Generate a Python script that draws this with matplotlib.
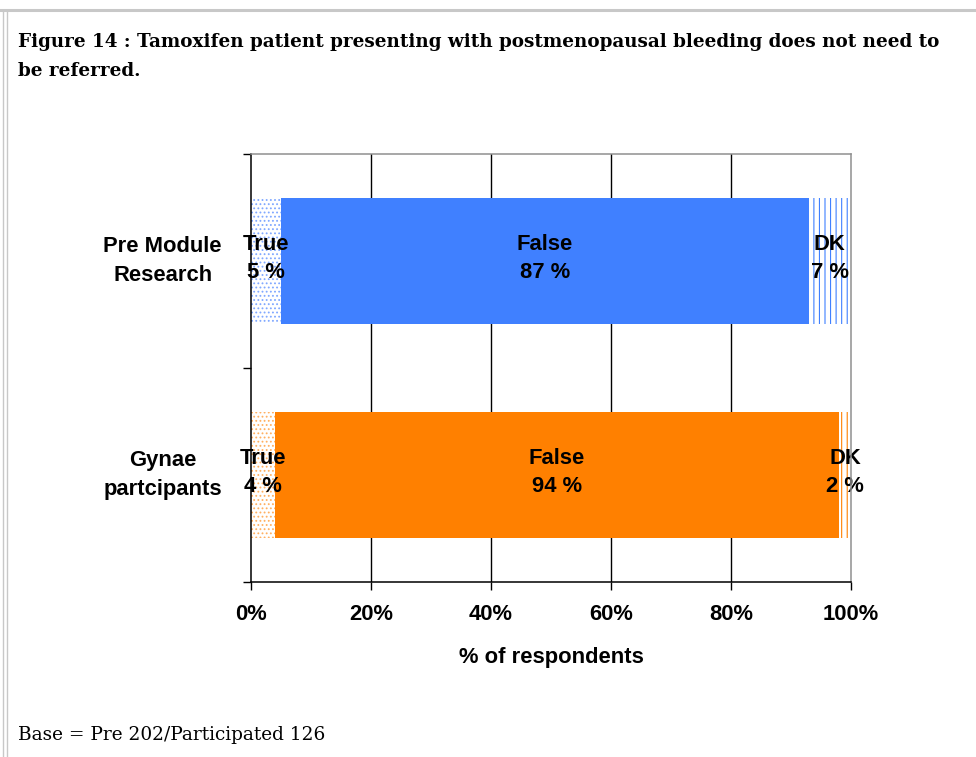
import matplotlib
matplotlib.use("Agg")
import matplotlib.pyplot as plt
from matplotlib.lines import Line2D
import numpy as np

title = "Figure 14 : Tamoxifen patient presenting with postmenopausal bleeding does not need to\nbe referred."
footer = "Base = Pre 202/Participated 126"
categories = ["Gynae\npartcipants", "Pre Module\nResearch"]
segments = ["True", "False", "DK"]
values = {
    "Gynae\npartcipants": [4, 94, 2],
    "Pre Module\nResearch": [5, 87, 7],
}
colors = {"Gynae\npartcipants": "#FF8000", "Pre Module\nResearch": "#4080FF"}
dot_colors = {"Gynae\npartcipants": "#FFB060", "Pre Module\nResearch": "#80A8FF"}
hatches = ["....", None, "|||"]
xticks = [0, 20, 40, 60, 80, 100]
xticklabels = ["0%", "20%", "40%", "60%", "80%", "100%"]
xlabel = "% of respondents"

plt.rcParams["hatch.linewidth"] = 0.8
fig = plt.figure(figsize=(9.76, 7.57), dpi=100)

# page border
fig.add_artist(Line2D([0.0, 1.0], [1 - 10 / 757, 1 - 10 / 757], color="#c8c8c8", lw=2.2))
fig.add_artist(Line2D([2.5 / 976, 2.5 / 976], [0, 1 - 11 / 757], color="#c8c8c8", lw=1.0))
fig.add_artist(Line2D([6.5 / 976, 6.5 / 976], [0, 1 - 11 / 757], color="#c8c8c8", lw=1.0))

fig.text(18 / 976, 1 - 33 / 757, title, ha="left", va="top", fontsize=13.2,
         fontweight="bold", family="DejaVu Serif", linespacing=1.75)
fig.text(18 / 976, 1 - 735 / 757, footer, ha="left", va="center", fontsize=13.3,
         family="DejaVu Serif")

ax = fig.add_axes([251 / 976, 1 - 582 / 757, 600 / 976, 428 / 757])
ypos = np.arange(len(categories))
bar_h = 0.59
fs = 15.8
for i, cat in enumerate(categories):
    vals = np.array(values[cat], dtype=float)
    pct = vals / vals.sum() * 100
    left = 0.0
    for j, (seg, p) in enumerate(zip(segments, pct)):
        c = colors[cat]
        if hatches[j] is None:
            ax.barh(ypos[i], p, left=left, height=bar_h, color=c, edgecolor=c, lw=0)
        else:
            hc = dot_colors[cat] if j == 0 else c
            ax.barh(ypos[i], p, left=left, height=bar_h, color="white", edgecolor=hc,
                    hatch=hatches[j], lw=0)
        ax.text(left + p / 2, ypos[i] + 0.01, f"{seg}\n{values[cat][j]:g} %", ha="center",
                va="center", fontsize=fs, fontweight="bold", family="Liberation Sans",
                linespacing=1.45, zorder=5)
        left += p

ax.set_xlim(0, 100)
ax.set_ylim(-0.5, 1.5)
ax.set_xticks(xticks)
ax.set_xticklabels(xticklabels, fontsize=fs, fontweight="bold", family="Liberation Sans")
ax.tick_params(axis="x", length=6, width=1, direction="out", pad=10)
ax.set_yticks(ypos)
ax.set_yticklabels(categories, fontsize=fs, fontweight="bold", family="Liberation Sans",
                   multialignment="center", linespacing=1.45, va="center")
ax.tick_params(axis="y", length=0, pad=21)
ax.set_yticks([-0.5, 0.5, 1.5], minor=True)
ax.tick_params(axis="y", which="minor", length=6, width=1, direction="out")
ax.set_xlabel(xlabel, fontsize=fs, fontweight="bold", family="Liberation Sans", labelpad=16)

for x in xticks[1:-1]:
    ax.axvline(x, color="black", lw=1, zorder=0)
ax.spines["top"].set_color("#909090")
ax.spines["right"].set_color("#909090")
ax.spines["left"].set_color("black")
ax.spines["bottom"].set_color("black")
for s in ax.spines.values():
    s.set_linewidth(1.1)
    s.set_zorder(6)

fig.savefig("out.png", dpi=100)
